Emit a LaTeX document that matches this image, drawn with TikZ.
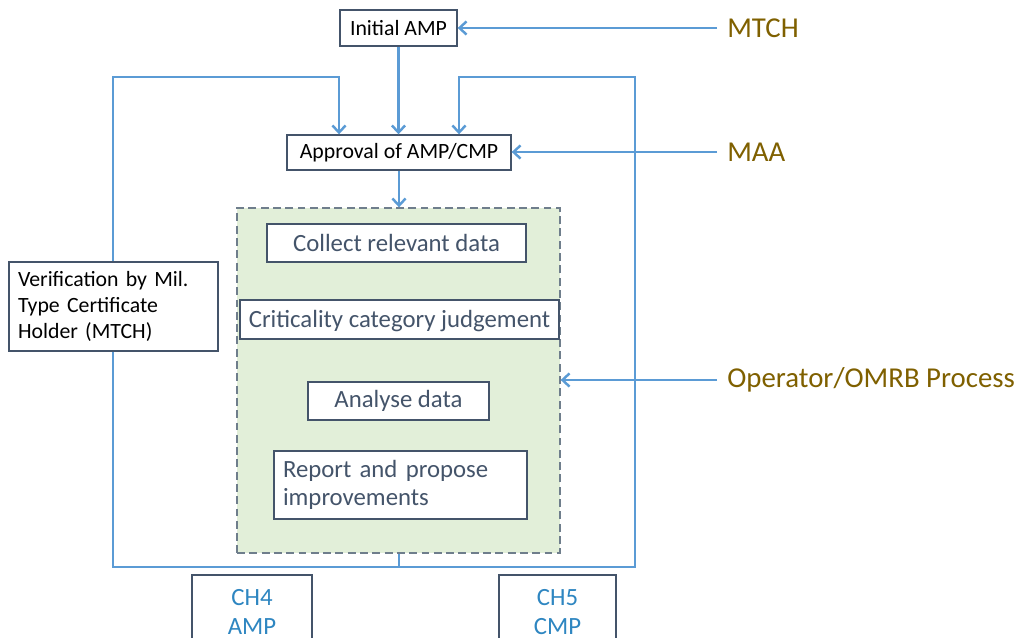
\documentclass[tikz,border=0pt]{standalone}
\usepackage{fontspec}
\setmainfont{Carlito}
\usetikzlibrary{arrows.meta,calc}
\definecolor{wirec}{HTML}{5B9BD5}
\definecolor{boxc}{HTML}{44546A}
\definecolor{greenf}{HTML}{E2EFD9}
\definecolor{dashc}{HTML}{6F7E8C}
\definecolor{olive}{HTML}{7F6000}
\definecolor{chc}{HTML}{2E86C1}
\tikzset{
  box/.style={draw=boxc, line width=0.8pt, fill=white, inner sep=0pt, align=center},
  wire/.style={draw=wirec, line width=1.5pt},
  arr/.style={wire, -{Straight Barb[length=4pt,width=7.5pt,line width=1.4pt]}},
  smalltxt/.style={font=\fontsize{12.4}{15}\selectfont, text=black},
  innertxt/.style={font=\fontsize{14.1}{16}\selectfont, text=boxc},
  sidetxt/.style={font=\fontsize{16.4}{19}\selectfont, text=olive, anchor=west, inner sep=0pt},
}
\begin{document}
\begin{tikzpicture}[x=0.02cm, y=-0.02cm]
\useasboundingbox (0,0) rectangle (1027,638);
\clip (0,0) rectangle (1027,638);

% process container
\node[draw=dashc, dashed, dash pattern=on 4.5pt off 2.5pt, line width=0.8pt, fill=greenf,
      minimum width=6.46cm, minimum height=6.9cm, inner sep=0pt] (green) at (398.5,380.5) {};

% main boxes
\node[box, smalltxt, minimum width=2.34cm, minimum height=0.72cm] (initial) at (398.5,28) {Initial AMP};
\node[box, smalltxt, minimum width=4.48cm, minimum height=0.7cm] (approval) at (399,152.5) {Approval of AMP/CMP};

\node[box, innertxt, minimum width=5.18cm, minimum height=0.76cm] (collect) at (396.5,243) {Collect relevant data};
\node[box, innertxt, minimum width=6.38cm, minimum height=0.78cm, text depth=0.25ex] (crit) at (399.5,319.5) {Criticality category judgement};
\node[box, innertxt, minimum width=3.62cm, minimum height=0.76cm] (analyse) at (398.5,401) {Analyse data};
\node[box, innertxt, align=left, text width=4.7cm, inner xsep=0.18cm,
      minimum height=1.36cm] (report) at (400.5,485) {Report and propose\\improvements};

% feedback loop coordinates
\coordinate (busL) at (113,567);
\coordinate (busR) at (635,567);
\coordinate (busM) at (399,567);
\coordinate (tl) at (113,77);
\coordinate (tr) at (635,77);
\coordinate (lx) at (339,0);
\coordinate (rx) at (459,0);

% side sources
\node[sidetxt] (mtch) at (727,28) {MTCH};
\node[sidetxt] (maa) at (727,152) {MAA};
\node[sidetxt] (omrb) at (727,380) {Operator/OMRB Process};
\coordinate (s1) at (717,28);
\coordinate (s2) at (717,152);
\coordinate (s3) at (717,380);

% connectors
\draw[arr] (initial.south) -- (approval.north -| initial.south);
\draw[arr] (approval.south) -- (green.north -| approval.south);
\draw[wire] (green.south -| busM) -- (busM);
\draw[wire] (busL) -- (busR);
\draw[arr] (busM) -| (tl) -| (approval.north -| lx);
\draw[arr] (busM) -| (tr) -| (approval.north -| rx);
\draw[arr] (s1) -- (initial.east |- s1);
\draw[arr] (s2) -- (approval.east |- s2);
\draw[arr] (s3) -- (green.east |- s3);

% verification box over the loop
\node[box, smalltxt, align=left, text width=3.82cm, inner xsep=0.18cm,
      minimum height=1.78cm] (verif) at (113.5,306.5)
      {Verification by Mil.\\Type Certificate\\Holder (MTCH)};

% chapter boxes
\node[box, innertxt, text=chc, minimum width=2.4cm, minimum height=1.48cm] (ch4) at (252,612) {CH4\\AMP};
\node[box, innertxt, text=chc, minimum width=2.34cm, minimum height=1.48cm] (ch5) at (557.5,612) {CH5\\CMP};
\end{tikzpicture}
\end{document}
